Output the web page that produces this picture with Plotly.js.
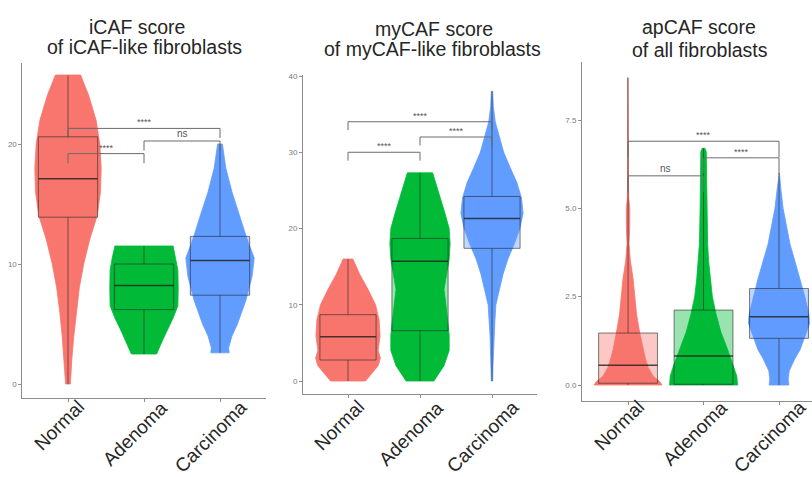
<!DOCTYPE html>
<html>
<head>
<meta charset="utf-8">
<script src="https://cdn.plot.ly/plotly-3.0.1.min.js"></script>
<style>html,body{margin:0;padding:0;background:#fff;}#chart{width:812px;height:477px;}</style>
</head>
<body>
<div id="chart"></div>
<script>
// ---------- data ----------
const categories = ["Normal", "Adenoma", "Carcinoma"];
const groupColors = ["#F8766D", "#00BA38", "#619CFF"];
const boxFills = ["rgba(248,118,109,0.4)", "rgba(0,186,56,0.4)", "rgba(97,156,255,0.4)"];

// Panel 1: iCAF score of iCAF-like fibroblasts
const icafTitle = ["iCAF score", "of iCAF-like fibroblasts"];
const icafNormalY = [0, 2, 4, 6, 8, 10, 12, 14, 16, 18, 20, 22, 24, 25.75];
const icafNormalD = [0.07, 0.11, 0.17, 0.24, 0.33, 0.46, 0.63, 0.85, 0.95, 0.97, 0.93, 0.82, 0.61, 0.37];
const icafAdenomaY = [2.5, 3.5, 4.5, 5.5, 6.5, 8, 9.5, 10.5, 11.5];
const icafAdenomaD = [0.37, 0.52, 0.68, 0.85, 0.99, 1.0, 0.99, 0.93, 0.85];
const icafCarcinomaY = [2.6, 3, 4, 5, 7, 9, 10.5, 12, 14, 16, 18, 20];
const icafCarcinomaD = [0.27, 0.25, 0.35, 0.51, 0.76, 0.94, 1.0, 0.8, 0.58, 0.35, 0.17, 0.07];
const icafLow = [0, 2.5, 2.6];
const icafQ1 = [13.9, 6.2, 7.4];
const icafMedian = [17.1, 8.2, 10.3];
const icafQ3 = [20.6, 10.0, 12.3];
const icafHigh = [25.7, 11.5, 20.0];
const icafBrFrom = [0, 1, 0];
const icafBrTo = [1, 2, 2];
const icafBrH = [19.2, 20.25, 21.3];
const icafBrLabel = ["****", "ns", "****"];
const icafTicks = [0, 10, 20];
const icafTickText = ["0", "10", "20"];

// Panel 2: myCAF score of myCAF-like fibroblasts
const mycafTitle = ["myCAF score", "of myCAF-like fibroblasts"];
const mycafNormalY = [0, 1, 2, 3, 4, 6, 8, 10, 12, 14, 16];
const mycafNormalD = [0.54, 0.74, 0.93, 1.0, 0.93, 0.99, 0.96, 0.85, 0.62, 0.36, 0.15];
const mycafAdenomaY = [0, 2, 4, 6, 8, 10, 12, 14, 16, 18, 20, 22, 25, 27.3];
const mycafAdenomaD = [0.43, 0.74, 0.9, 0.9, 0.85, 0.8, 0.74, 0.82, 0.9, 0.93, 0.9, 0.77, 0.56, 0.39];
const mycafCarcinomaY = [0, 2, 4, 6, 8, 10, 12, 14, 16, 18, 20, 22, 24, 26, 28, 30, 32, 34, 36, 38];
const mycafCarcinomaD = [0.02, 0.03, 0.05, 0.06, 0.09, 0.12, 0.23, 0.34, 0.49, 0.69, 0.86, 0.96, 0.91, 0.77, 0.56, 0.36, 0.23, 0.1, 0.04, 0.02];
const mycafLow = [0, 0, 0];
const mycafQ1 = [2.75, 6.6, 17.4];
const mycafMedian = [5.8, 15.7, 21.3];
const mycafQ3 = [8.7, 18.7, 24.2];
const mycafHigh = [16, 27.3, 38];
const mycafBrFrom = [0, 1, 0];
const mycafBrTo = [1, 2, 2];
const mycafBrH = [30, 32, 34];
const mycafBrLabel = ["****", "****", "****"];
const mycafTicks = [0, 10, 20, 30, 40];
const mycafTickText = ["0", "10", "20", "30", "40"];

// Panel 3: apCAF score of all fibroblasts
const apcafTitle = ["apCAF score", "of all fibroblasts"];
const apcafNormalY = [0, 0.1, 0.25, 0.5, 0.75, 1, 1.5, 2, 2.5, 3, 3.5, 4, 4.5, 5, 5.3, 6, 7, 8, 8.7];
const apcafNormalD = [1.0, 0.93, 0.74, 0.59, 0.51, 0.44, 0.34, 0.25, 0.2, 0.15, 0.07, 0.03, 0.05, 0.05, 0.02, 0.01, 0.01, 0.01, 0.01];
const apcafAdenomaY = [0, 0.25, 0.5, 0.75, 1, 1.5, 2, 2.5, 3, 3.5, 4, 5, 6, 6.6, 6.7];
const apcafAdenomaD = [1.0, 0.98, 0.9, 0.8, 0.71, 0.51, 0.37, 0.26, 0.2, 0.15, 0.12, 0.1, 0.09, 0.08, 0.04];
const apcafCarcinomaY = [0, 0.15, 0.4, 0.75, 1, 1.5, 1.75, 2, 2.5, 3, 3.5, 4, 4.5, 5, 5.5, 6];
const apcafCarcinomaD = [0.29, 0.27, 0.3, 0.47, 0.62, 0.81, 0.9, 0.88, 0.76, 0.62, 0.47, 0.32, 0.22, 0.12, 0.06, 0.01];
const apcafLow = [0, 0, 0];
const apcafQ1 = [0.05, 0.02, 1.32];
const apcafMedian = [0.56, 0.82, 1.93];
const apcafQ3 = [1.47, 2.12, 2.73];
const apcafHigh = [8.7, 6.7, 6.0];
const apcafBrFrom = [0, 1, 0];
const apcafBrTo = [1, 2, 2];
const apcafBrH = [5.92, 6.43, 6.9];
const apcafBrLabel = ["ns", "****", "****"];
const apcafTicks = [0, 2.5, 5, 7.5];
const apcafTickText = ["0.0", "2.5", "5.0", "7.5"];

// ---------- build ----------
const W = 812, H = 477;
const panels = [
  { ax: "", title: icafTitle, vio: [[icafNormalY, icafNormalD], [icafAdenomaY, icafAdenomaD], [icafCarcinomaY, icafCarcinomaD]],
    lo: icafLow, q1: icafQ1, med: icafMedian, q3: icafQ3, hi: icafHigh,
    bf: icafBrFrom, bt: icafBrTo, bh: icafBrH, bl: icafBrLabel, tip: 0.8, ticks: icafTicks, tickText: icafTickText,
    xpx: [22.4, 265.6], ypx: [63, 398], xr: [-0.6, 2.6], yr: [-(398 - 384) / 12, (384 - 63) / 12],
    t1: [137, 27], t2: [144, 47] },
  { ax: "2", title: mycafTitle, vio: [[mycafNormalY, mycafNormalD], [mycafAdenomaY, mycafAdenomaD], [mycafCarcinomaY, mycafCarcinomaD]],
    lo: mycafLow, q1: mycafQ1, med: mycafMedian, q3: mycafQ3, hi: mycafHigh,
    bf: mycafBrFrom, bt: mycafBrTo, bh: mycafBrH, bl: mycafBrLabel, tip: 1.1, ticks: mycafTicks, tickText: mycafTickText,
    xpx: [303, 537], ypx: [75, 394], xr: [-0.625, 2.625], yr: [-(394 - 381) / 7.625, (381 - 75) / 7.625],
    t1: [434, 29], t2: [432, 49] },
  { ax: "3", title: apcafTitle, vio: [[apcafNormalY, apcafNormalD], [apcafAdenomaY, apcafAdenomaD], [apcafCarcinomaY, apcafCarcinomaD]],
    lo: apcafLow, q1: apcafQ1, med: apcafMedian, q3: apcafQ3, hi: apcafHigh,
    bf: apcafBrFrom, bt: apcafBrTo, bh: apcafBrH, bl: apcafBrLabel, tip: 0.45, ticks: apcafTicks, tickText: apcafTickText,
    xpx: [582, 812], ypx: [62, 401], xr: [-0.61, 2.437], yr: [-(401 - 385) / 35.33, (385 - 62) / 35.33],
    t1: [699, 27], t2: [700, 50] }
];

const VW = 0.45;      // max violin half width (category units)
const BOXW = 0.78;    // box width (category units)
const FONT = "Liberation Sans, Arial, Helvetica, sans-serif";
const traces = [];
const annotations = [];
const layout = {
  width: W, height: H, margin: { l: 0, r: 0, t: 0, b: 0 },
  paper_bgcolor: "#fff", plot_bgcolor: "#fff", showlegend: false,
  font: { family: FONT }
};

panels.forEach(p => {
  const xa = "x" + p.ax, ya = "y" + p.ax;
  // violins
  p.vio.forEach((v, i) => {
    const ys = v[0], ds = v[1];
    const xs = ys.map((y, k) => i - VW * ds[k]);
    const xr = ys.map((y, k) => i + VW * ds[k]).reverse();
    traces.push({
      type: "scatter", mode: "lines", xaxis: xa, yaxis: ya,
      x: xs.concat(xr, [xs[0]]), y: ys.concat(ys.slice().reverse(), [ys[0]]),
      fill: "toself", fillcolor: groupColors[i],
      line: { color: groupColors[i], width: 0.8 }, hoverinfo: "skip"
    });
  });
  // boxes (drawn above the violins)
  categories.forEach((c, i) => {
    const l = i - BOXW / 2, r = i + BOXW / 2;
    traces.push({
      type: "scatter", mode: "lines", xaxis: xa, yaxis: ya,
      x: [l, r, r, l, l], y: [p.q1[i], p.q1[i], p.q3[i], p.q3[i], p.q1[i]],
      fill: "toself", fillcolor: boxFills[i],
      line: { color: "rgba(40,40,40,0.6)", width: 1 }, hoverinfo: "skip"
    });
    traces.push({
      type: "scatter", mode: "lines", xaxis: xa, yaxis: ya,
      x: [i, i, null, i, i], y: [p.lo[i], p.q1[i], null, p.q3[i], p.hi[i]],
      line: { color: "rgba(40,40,40,0.6)", width: 1 }, hoverinfo: "skip"
    });
    traces.push({
      type: "scatter", mode: "lines", xaxis: xa, yaxis: ya,
      x: [l, r], y: [p.med[i], p.med[i]],
      line: { color: "rgba(30,30,30,0.8)", width: 1.5 }, hoverinfo: "skip"
    });
  });
  // brackets
  p.bh.forEach((h, k) => {
    const a = p.bf[k], b = p.bt[k];
    traces.push({
      type: "scatter", mode: "lines", xaxis: xa, yaxis: ya,
      x: [a, a, b, b], y: [h - p.tip, h, h, h - p.tip],
      line: { color: "#6a6a6a", width: 1 }, hoverinfo: "skip"
    });
    annotations.push({
      xref: xa, yref: ya, x: (a + b) / 2, y: h, text: p.bl[k], showarrow: false,
      xanchor: "center", yanchor: "bottom", yshift: p.bl[k] === "ns" ? 0 : -1,
      font: { size: p.bl[k] === "ns" ? 10 : 9, color: "#555" }
    });
  });
  // axes
  const axStyle = {
    showline: true, linecolor: "#8c8c8c", linewidth: 1, ticks: "outside", ticklen: 3,
    tickcolor: "#8c8c8c", tickwidth: 1, showgrid: false, zeroline: false, fixedrange: true
  };
  layout["xaxis" + p.ax] = Object.assign({}, axStyle, {
    domain: [p.xpx[0] / W, p.xpx[1] / W], range: p.xr, anchor: ya,
    tickmode: "array", tickvals: categories.map((c, i) => i), showticklabels: false
  });
  layout["yaxis" + p.ax] = Object.assign({}, axStyle, {
    domain: [(H - p.ypx[1]) / H, (H - p.ypx[0]) / H], range: p.yr, anchor: xa,
    tickmode: "array", tickvals: p.ticks, ticktext: p.tickText,
    tickfont: { size: 8, color: "#7a7a7a" }
  });
  // titles
  annotations.push({ xref: "paper", yref: "paper", x: p.t1[0] / W, y: (H - p.t1[1]) / H, text: p.title[0],
    showarrow: false, xanchor: "center", yanchor: "middle", font: { size: 19.5, color: "#262626" } });
  annotations.push({ xref: "paper", yref: "paper", x: p.t2[0] / W, y: (H - p.t2[1]) / H, text: p.title[1],
    showarrow: false, xanchor: "center", yanchor: "middle", font: { size: 19.5, color: "#262626" } });
  // category labels (rotated)
  categories.forEach((c, i) => {
    annotations.push({ xref: xa, yref: "paper", x: i, y: (H - 394) / H, text: c, textangle: -45,
      showarrow: false, xanchor: "center", yanchor: "top", xshift: -9,
      font: { size: 19, color: "#262626" } });
  });
});
layout.annotations = annotations;

Plotly.newPlot("chart", traces, layout, { staticPlot: true, displayModeBar: false });
</script>
</body>
</html>
